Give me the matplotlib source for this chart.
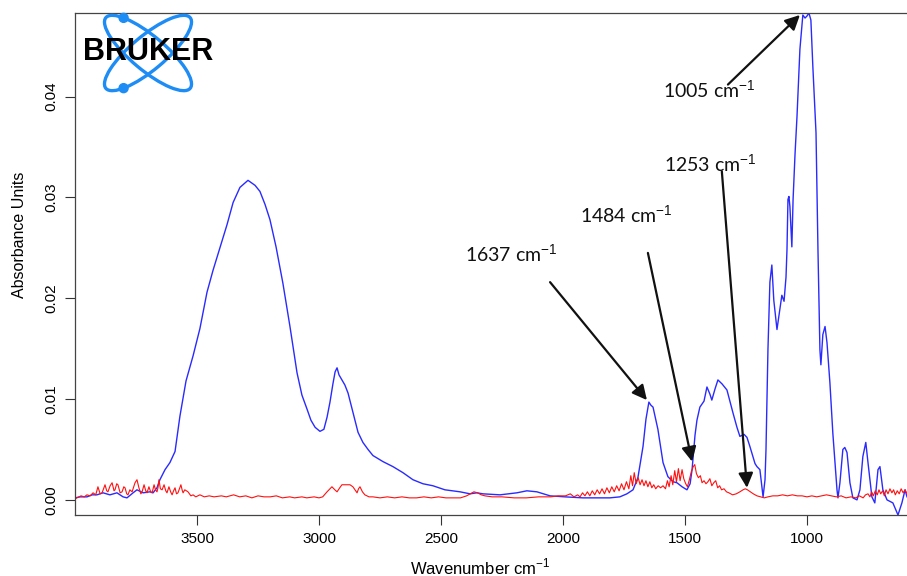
import numpy as np
import matplotlib
matplotlib.use("Agg")
import matplotlib.pyplot as plt
from matplotlib.patches import Ellipse, Circle

plt.rcParams['font.family'] = ['Liberation Sans', 'DejaVu Sans']
plt.rcParams['mathtext.fontset'] = 'custom'
plt.rcParams['mathtext.rm'] = 'Liberation Sans'

# sample spectrum (blue)
blue_wn = [4000, 3979, 3951, 3930, 3910, 3885, 3857, 3828, 3803, 3787, 3762, 3746, 3721, 3693,
           3680, 3664, 3652, 3631, 3611, 3590, 3570, 3545, 3516, 3488, 3459, 3434, 3406, 3377,
           3352, 3324, 3291, 3262, 3242, 3221, 3201, 3176, 3148, 3119, 3090, 3070, 3049, 3033,
           3016, 2996, 2980, 2967, 2955, 2943, 2934, 2926, 2918, 2906, 2894, 2881, 2861, 2840,
           2820, 2799, 2779, 2738, 2697, 2656, 2615, 2574, 2533, 2484, 2422, 2381, 2353, 2328,
           2258, 2189, 2148, 2107, 2053, 1992, 1918, 1849, 1808, 1767, 1738, 1713, 1693, 1672,
           1660, 1648, 1640, 1631, 1611, 1590, 1570, 1549, 1533, 1512, 1492, 1479, 1471, 1459,
           1451, 1439, 1422, 1410, 1398, 1390, 1377, 1365, 1348, 1328, 1303, 1287, 1275, 1258,
           1246, 1234, 1213, 1205, 1193, 1180, 1172, 1168, 1160, 1152, 1144, 1136, 1123, 1111,
           1103, 1094, 1086, 1082, 1078, 1074, 1070, 1062, 1057, 1049, 1041, 1029, 1017, 1008,
           1000, 992, 984, 976, 963, 955, 947, 943, 935, 926, 918, 906, 894, 877, 873, 865,
           853, 845, 836, 824, 812, 795, 783, 771, 759, 750, 734, 722, 709, 701, 689, 672,
           648, 627, 611, 598, 590]
blue_abs = [0.0002, 0.0003, 0.0003, 0.0005, 0.0005, 0.0007, 0.0005, 0.0007, 0.0003, 0.0002,
            0.0007, 0.0010, 0.0007, 0.0008, 0.0007, 0.0012, 0.0020, 0.0030, 0.0037, 0.0048,
            0.0083, 0.0118, 0.0143, 0.0170, 0.0206, 0.0228, 0.0250, 0.0273, 0.0295, 0.0310,
            0.0317, 0.0312, 0.0306, 0.0293, 0.0278, 0.0251, 0.0215, 0.0172, 0.0126, 0.0104,
            0.0090, 0.0079, 0.0072, 0.0068, 0.0070, 0.0082, 0.0097, 0.0115, 0.0127, 0.0131,
            0.0124, 0.0119, 0.0114, 0.0106, 0.0087, 0.0067, 0.0057, 0.0050, 0.0044, 0.0038,
            0.0033, 0.0027, 0.0020, 0.0016, 0.0014, 0.0010, 0.0008, 0.0006, 0.0007, 0.0006,
            0.0005, 0.0007, 0.0009, 0.0008, 0.0004, 0.0003, 0.0002, 0.0002, 0.0002, 0.0003,
            0.0006, 0.0010, 0.0022, 0.0053, 0.0080, 0.0097, 0.0094, 0.0092, 0.0070, 0.0037,
            0.0023, 0.0018, 0.0017, 0.0013, 0.0010, 0.0016, 0.0030, 0.0064, 0.0079, 0.0092,
            0.0098, 0.0112, 0.0105, 0.0099, 0.0110, 0.0119, 0.0115, 0.0109, 0.0086, 0.0072,
            0.0063, 0.0065, 0.0062, 0.0053, 0.0036, 0.0033, 0.0030, 0.0003, 0.0020, 0.0050,
            0.0149, 0.0216, 0.0233, 0.0198, 0.0169, 0.0189, 0.0203, 0.0197, 0.0221, 0.0248,
            0.0298, 0.0301, 0.0291, 0.0251, 0.0298, 0.0343, 0.0380, 0.0447, 0.0481, 0.0478,
            0.0480, 0.0483, 0.0476, 0.0430, 0.0364, 0.0248, 0.0149, 0.0134, 0.0164, 0.0172,
            0.0156, 0.0116, 0.0066, 0.0010, 0.0002, 0.0017, 0.0050, 0.0052, 0.0047, 0.0017,
            0.0002, 0.0000, 0.0010, 0.0043, 0.0057, 0.0037, 0.0003, -0.0003, 0.0030, 0.0033,
            0.0010, 0.0000, -0.0003, -0.0015, -0.0003, 0.0010, 0.0003]

# reference spectrum (red)
red_wn = [4000, 3992, 3975, 3962, 3951, 3938, 3926, 3915, 3906, 3897, 3889, 3877, 3870, 3865,
          3856, 3848, 3840, 3836, 3829, 3824, 3815, 3807, 3800, 3795, 3788, 3783, 3775, 3766,
          3758, 3754, 3746, 3742, 3738, 3730, 3725, 3717, 3710, 3705, 3697, 3690, 3684, 3676,
          3670, 3664, 3660, 3656, 3650, 3643, 3635, 3628, 3623, 3615, 3608, 3602, 3596, 3590,
          3584, 3578, 3572, 3566, 3560, 3557, 3550, 3537, 3525, 3516, 3505, 3488, 3470, 3450,
          3430, 3400, 3380, 3350, 3325, 3300, 3275, 3250, 3225, 3200, 3175, 3150, 3120, 3100,
          3070, 3050, 3020, 3000, 2985, 2967, 2955, 2947, 2935, 2926, 2915, 2906, 2890, 2873,
          2861, 2850, 2844, 2838, 2832, 2822, 2812, 2795, 2779, 2750, 2720, 2690, 2660, 2630,
          2600, 2570, 2540, 2510, 2480, 2450, 2420, 2395, 2380, 2365, 2350, 2335, 2320, 2290,
          2250, 2200, 2150, 2100, 2050, 2020, 1990, 1970, 1955, 1940, 1930, 1920, 1910, 1900,
          1890, 1880, 1870, 1860, 1850, 1840, 1830, 1820, 1810, 1800, 1790, 1780, 1770, 1760,
          1750, 1740, 1730, 1722, 1715, 1708, 1700, 1692, 1684, 1676, 1668, 1660, 1652, 1644,
          1636, 1628, 1620, 1610, 1600, 1590, 1580, 1572, 1565, 1557, 1550, 1542, 1535, 1527,
          1520, 1512, 1505, 1497, 1490, 1482, 1474, 1466, 1460, 1453, 1445, 1437, 1430, 1422,
          1414, 1406, 1398, 1390, 1382, 1374, 1366, 1358, 1350, 1340, 1330, 1320, 1305, 1290,
          1275, 1262, 1253, 1244, 1232, 1220, 1205, 1190, 1175, 1160, 1140, 1120, 1100, 1080,
          1060, 1040, 1020, 1000, 980, 960, 940, 920, 900, 880, 860, 840, 820, 800, 785, 770,
          760, 750, 742, 735, 728, 720, 712, 705, 698, 690, 683, 676, 668, 660, 652, 645, 638,
          630, 622, 614, 606, 598, 590]
red_abs = [0.0001, 0.0002, 0.0004, 0.0003, 0.0005, 0.0004, 0.0007, 0.0005, 0.0013, 0.0006,
           0.0007, 0.0015, 0.0009, 0.0008, 0.0014, 0.0017, 0.0009, 0.0010, 0.0016, 0.0015,
           0.0007, 0.0008, 0.0013, 0.0012, 0.0006, 0.0005, 0.0010, 0.0008, 0.0014, 0.0017,
           0.0020, 0.0016, 0.0012, 0.0006, 0.0008, 0.0015, 0.0009, 0.0007, 0.0013, 0.0008,
           0.0007, 0.0015, 0.0010, 0.0008, 0.0012, 0.0020, 0.0011, 0.0010, 0.0015, 0.0009,
           0.0007, 0.0013, 0.0008, 0.0005, 0.0009, 0.0012, 0.0006, 0.0007, 0.0011, 0.0015,
           0.0009, 0.0007, 0.0010, 0.0008, 0.0004, 0.0005, 0.0003, 0.0005, 0.0003, 0.0004,
           0.0003, 0.0004, 0.0003, 0.0005, 0.0003, 0.0004, 0.0002, 0.0004, 0.0003, 0.0003,
           0.0004, 0.0002, 0.0003, 0.0002, 0.0003, 0.0002, 0.0003, 0.0002, 0.0003, 0.0008,
           0.0011, 0.0013, 0.0010, 0.0008, 0.0012, 0.0015, 0.0015, 0.0015, 0.0013, 0.0009,
           0.0007, 0.0011, 0.0013, 0.0008, 0.0005, 0.0003, 0.0003, 0.0002, 0.0003, 0.0002,
           0.0003, 0.0002, 0.0002, 0.0003, 0.0002, 0.0003, 0.0002, 0.0002, 0.0002, 0.0004,
           0.0006, 0.0008, 0.0007, 0.0005, 0.0004, 0.0003, 0.0003, 0.0002, 0.0002, 0.0003,
           0.0003, 0.0004, 0.0004, 0.0006, 0.0003, 0.0005, 0.0003, 0.0007, 0.0004, 0.0008,
           0.0004, 0.0009, 0.0005, 0.0010, 0.0006, 0.0011, 0.0006, 0.0012, 0.0007, 0.0013,
           0.0008, 0.0014, 0.0009, 0.0016, 0.0010, 0.0018, 0.0011, 0.0024, 0.0014, 0.0027,
           0.0016, 0.0022, 0.0015, 0.0020, 0.0014, 0.0019, 0.0013, 0.0018, 0.0012, 0.0015,
           0.0011, 0.0014, 0.0012, 0.0014, 0.0011, 0.0019, 0.0013, 0.0024, 0.0015, 0.0029,
           0.0018, 0.0031, 0.0019, 0.0030, 0.0021, 0.0016, 0.0013, 0.0020, 0.0028, 0.0033,
           0.0035, 0.0026, 0.0022, 0.0024, 0.0017, 0.0019, 0.0016, 0.0018, 0.0021, 0.0014,
           0.0017, 0.0019, 0.0012, 0.0014, 0.0010, 0.0011, 0.0008, 0.0007, 0.0005, 0.0006,
           0.0008, 0.0010, 0.0011, 0.0010, 0.0008, 0.0006, 0.0004, 0.0003, 0.0002, 0.0003,
           0.0004, 0.0004, 0.0005, 0.0004, 0.0005, 0.0004, 0.0004, 0.0003, 0.0004, 0.0003,
           0.0004, 0.0005, 0.0004, 0.0003, 0.0004, 0.0002, 0.0003, 0.0002, 0.0004, 0.0002,
           0.0005, 0.0006, 0.0003, 0.0008, 0.0004, 0.0009, 0.0005, 0.0010, 0.0006, 0.0009,
           0.0004, 0.0010, 0.0006, 0.0011, 0.0007, 0.0010, 0.0005, 0.0009, 0.0006, 0.0011,
           0.0007, 0.0010, 0.0006]

# peak labels: text, arrow tip (wn, abs), arrow tail, text centre
peak_labels = ['1637', '1484', '1253', '1005']
peak_tips = [(1656, 0.0099), (1471, 0.0038), (1246, 0.0012), (1029, 0.0481)]
peak_tails = [(2053, 0.0216), (1652, 0.0245), (1349, 0.0326), (1324, 0.0412)]
peak_text_pos = [(2213, 0.0244), (1742, 0.0283), (1398, 0.0333), (1402, 0.0407)]

W, H = 907, 576
fig = plt.figure(figsize=(W / 100, H / 100), dpi=100)
ax = fig.add_axes([75 / W, 1 - 515 / H, (908 - 75) / W, (515 - 13) / H])

ax.plot(blue_wn, blue_abs, color='#2a2aff', lw=1.0)
ax.plot(red_wn, red_abs, color='#ff1010', lw=0.8)

ax.set_xlim(4000, 586)
ax.set_ylim(-0.0015, 0.0483)
ax.set_xticks([3500, 3000, 2500, 2000, 1500, 1000])
ax.set_yticks([0.00, 0.01, 0.02, 0.03, 0.04])
ax.set_yticklabels(['0.00', '0.01', '0.02', '0.03', '0.04'], rotation=90, va='center')
ax.tick_params(direction='out', length=7, width=0.8, color='#333333',
               labelsize=11, pad=5)
ax.spines['right'].set_visible(False)
for s in ['left', 'bottom', 'top']:
    ax.spines[s].set_color('#444444')
    ax.spines[s].set_linewidth(0.9)

fig.text(480 / W, 1 - 567 / H, 'Wavenumber cm$^{\\mathrm{-1}}$', ha='center', va='center', fontsize=12)
fig.text(20 / W, 1 - 235 / H, 'Absorbance Units', ha='center', va='center', rotation=90, fontsize=11.5)

for lab, tip, tail, pos in zip(peak_labels, peak_tips, peak_tails, peak_text_pos):
    ax.annotate('', xy=tip, xytext=tail,
                arrowprops=dict(arrowstyle='-|>', color='#111111', lw=1.6,
                                mutation_scale=22, shrinkA=0, shrinkB=0))
    ax.text(pos[0], pos[1], lab + ' cm$^{\\mathrm{-1}}$', ha='center', va='center',
            fontsize=14, family=['Lato', 'DejaVu Sans'], color='#111111')

# logo overlay in pixel coordinates (y grows downward)
lg = fig.add_axes([0, 0, 1, 1])
lg.set_xlim(0, W)
lg.set_ylim(H, 0)
lg.axis('off')
logo_blue = '#1e8cf5'
cx, cy, a, b = 148, 53, 55, 17
for ang, t in ((40, -2.42), (-40, 2.42)):
    lg.add_patch(Ellipse((cx, cy), 2 * a, 2 * b, angle=ang, fill=False, ec=logo_blue, lw=2.4))
    # electron dot sitting on the orbit
    th = np.radians(ang)
    px = cx + a * np.cos(t) * np.cos(th) - b * np.sin(t) * np.sin(th)
    py = cy + a * np.cos(t) * np.sin(th) + b * np.sin(t) * np.cos(th)
    lg.add_patch(Circle((px, py), 4.5, color=logo_blue))
lg.text(148, 52, 'BRUKER', ha='center', va='center', fontsize=22, fontweight='heavy',
        color='black', family=['Liberation Sans', 'DejaVu Sans'])

fig.savefig('out.png', dpi=100)
